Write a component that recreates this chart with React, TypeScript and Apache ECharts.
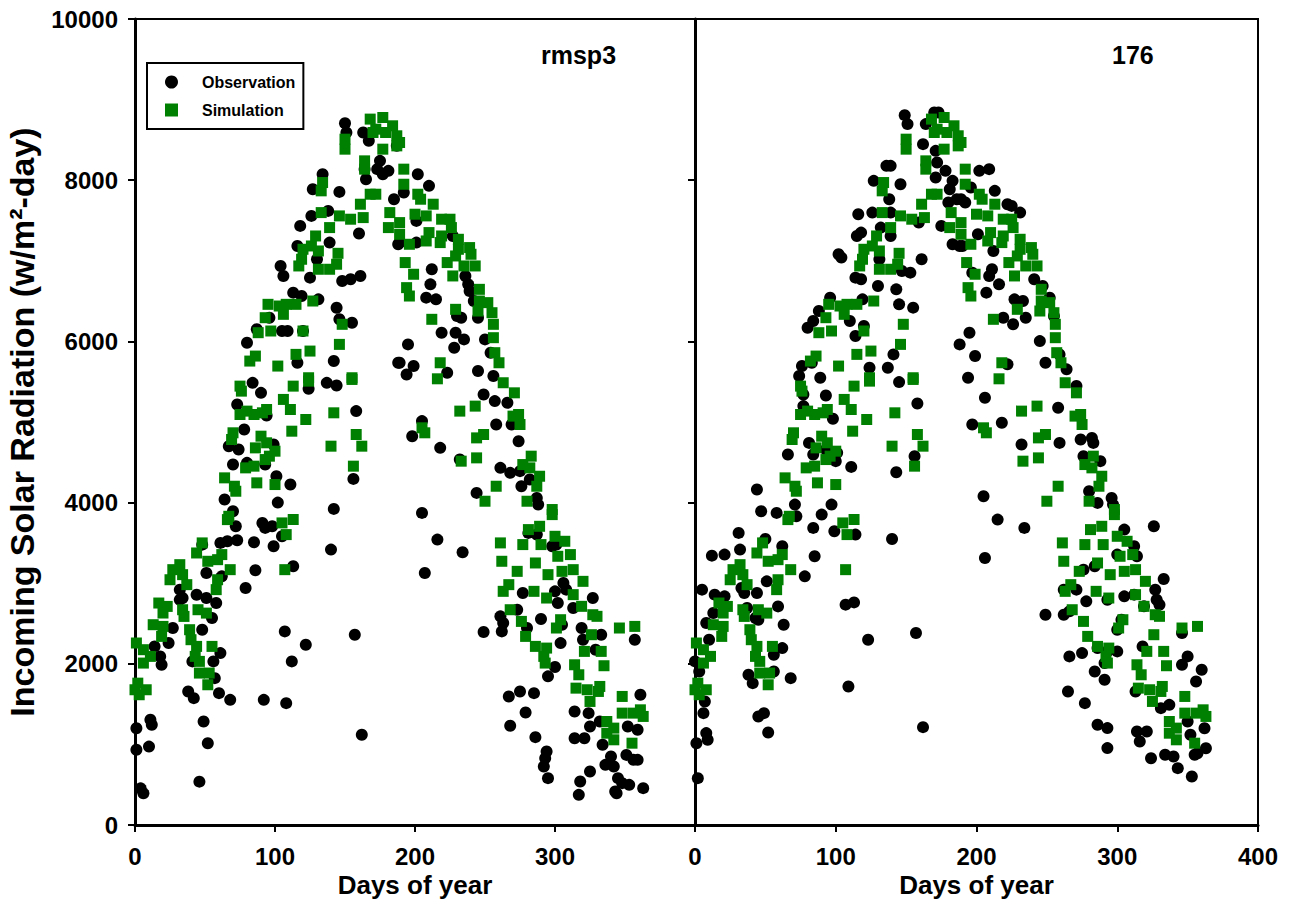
import React, { useEffect, useRef } from "react";
import * as echarts from "echarts";

// Day of year, incoming solar radiation (w/m2-day)
const obsRmsp3: number[][] = [
  [150,8708],[151,8592],[163,8592],[167,8488],[175,8240],[173,8137],[177,8074],[181,8116],[164,8137],[165,8012],
  [187,8426],[134,8074],[127,7888],[146,7855],[185,7764],[126,7557],[138,7619],[118,7433],[160,7338],[116,7184],
  [139,7226],[188,7205],[104,6936],[106,6812],[130,7019],[125,6791],[148,6750],[154,6771],[161,6812],[113,6605],
  [119,6563],[131,6522],[144,6418],[146,6274],[155,6232],[96,6294],[87,6150],[109,6129],[105,6129],[120,6129],
  [80,5984],[116,5735],[142,5756],[188,5735],
  [202,8074],[210,7930],[192,7847],[201,7495],[189,7226],[201,7226],[227,7308],[212,6895],[211,6708],[208,6543],
  [215,6522],[236,6812],[238,6708],[239,6625],[242,6501],[230,6315],[233,6294],[245,6294],[219,6108],[229,6108],
  [235,6025],[228,5922],[250,6025],[254,5860],[195,5963],[189,5735],[199,5694],[194,5590],[223,5611],[245,5632],
  [256,5570],
  [6,393],[4,455],[1,1200],[11,1305],[12,1243],[1,934],[10,973],[46,538],[49,1284],[52,1015],
  [38,1656],[42,1574],[68,1553],[60,1636],[92,1553],[108,1512],[162,1119],[107,2402],[122,2237],[112,2030],
  [157,2360],[19,1988],[18,2092],[14,2216],[24,2258],[27,2444],[32,2795],[34,2816],[44,2857],[51,2816],
  [58,2754],[55,2568],[48,2423],[61,2133],[56,2030],[41,2030],[57,1822],[32,2920],[51,3127],[62,3085],
  [79,2940],[86,3160],[48,3478],[61,3500],[66,3520],[73,3533],[85,3508],[99,3458],[105,3582],[91,3748],
  [93,3686],[98,3706],[113,3210],[140,3417],[64,4038],[70,3893],[72,3706],[102,4000],[142,3922],[70,4472],
  [67,4700],[74,4659],[78,4907],[80,4493],[93,4472],[99,4720],[101,4328],[111,4224],[156,4294],[158,5135],
  [84,5486],[90,5362],[94,5081],[73,5217],[124,5412],[137,5486],[144,5453],
  [249,5342],[257,5259],[266,5238],[258,4969],[269,4969],[274,4762],[218,4679],[205,5011],[198,4824],[232,4534],
  [244,4120],[261,4431],[268,4369],[275,4390],[276,4203],[282,4286],[287,4058],[288,3975],[205,3872],[216,3541],
  [234,3384],[207,3127],[281,3624],[287,3603],[298,3458],[301,3479],[306,3002],[308,2920],[300,2899],[302,2754],
  [313,2692],[277,2878],[273,2671],[261,2589],[263,2506],[262,2402],[249,2394],[280,2444],[290,2555],[305,2485],
  [304,2257],[319,2444],[320,2299],[327,2816],[333,2361],[329,2175],[357,2299],[300,1960],[295,1844],[267,1595],
  [275,1657],[285,1636],[279,1396],[268,1231],[286,1090],[314,1409],[324,1388],[332,1284],[325,1222],[361,1616],
  [352,1222],[359,1181],[314,1077],[321,1077],[334,995],[336,746],[340,850],[342,725],[351,870],[356,808],
  [359,808],[294,912],[293,829],[292,726],[295,581],[325,664],[318,539],[317,374],[345,581],[343,415],
  [344,394],[353,498],[363,457],[348,519]
];

const obs176: number[][] = [
  [149,8807],[151,8696],[164,8696],[170,8840],[173,8840],[162,8447],[171,8364],[172,8219],[178,8116],[171,8033],
  [183,7992],[181,7888],[186,7764],[180,7723],[136,8178],[139,8178],[127,7992],[146,7950],[138,7764],[175,7433],
  [183,7205],[188,7184],[116,7577],[126,7598],[139,7598],[159,7474],[132,7412],[139,7308],[115,7308],[118,7350],
  [102,7081],[104,7040],[131,7019],[161,7019],[114,6791],[118,6771],[130,6688],[147,6874],[153,6853],[143,6646],
  [145,6460],[155,6419],[96,6543],[88,6377],[119,6522],[80,6170],[84,6253],[110,6253],[114,6067],[120,6191],
  [188,5963],[76,5694],[74,5570],[89,5549],[124,5673],[137,5673],[141,5839],[83,5735],
  [202,8116],[209,8137],[196,7909],[213,7868],[192,7723],[189,7764],[222,7702],[225,7681],[231,7598],[201,7329],
  [190,7184],[212,7122],[211,6895],[209,6812],[216,6708],[207,6605],[197,6853],[241,6771],[247,6688],[252,6543],
  [227,6522],[233,6501],[219,6294],[226,6212],[235,6294],[255,6315],[195,6108],[199,5818],[194,5549],[245,6004],
  [222,5715],[249,5735],[259,5839],[264,5653],[271,5446],
  [2,581],[1,1015],[8,1140],[9,1057],[6,1388],[7,1533],[0,2030],[3,1905],[5,2920],[12,3342],
  [21,3355],[31,3624],[32,3417],[14,2858],[21,2837],[13,2630],[8,2506],[10,2299],[33,2940],[44,2878],
  [35,2878],[51,3023],[44,4162],[47,3893],[50,3549],[58,3872],[62,3458],[37,2692],[45,2547],[43,2568],
  [59,2712],[63,2485],[62,2195],[56,2113],[38,1864],[41,1760],[56,1905],[68,1822],[45,1346],[49,1388],
  [52,1148],[66,4597],[71,3975],[72,3830],[78,3085],[85,3334],[84,3686],[90,3851],[97,3975],[77,5197],
  [77,5342],[93,5329],[98,5040],[81,4741],[84,4597],[101,4617],[100,4514],[93,4659],[111,4443],[114,3603],
  [107,2734],[113,2762],[99,3644],[123,2299],[109,1719],[140,3549],[143,4377],[156,4576],[158,5230],[145,5495],
  [157,2382],[162,1214],
  [206,5300],[197,4969],[218,4990],[232,4721],[259,4741],[258,5176],[205,4079],[215,3789],[234,3686],[206,3313],
  [274,4783],[282,4803],[283,4741],[288,4514],[276,4576],[280,4141],[286,3996],[296,4058],[297,3975],[305,3665],
  [312,3458],[300,3355],[314,3334],[326,3706],[333,3052],[327,2920],[328,2795],[330,2733],[262,2920],[271,2920],
  [278,2775],[284,3210],[276,3168],[293,2795],[305,2837],[312,2858],[319,2713],[303,2547],[300,2423],[286,2195],
  [293,2154],[300,2154],[291,2009],[284,1905],[291,1802],[262,2609],[266,2651],[346,2382],[249,2609],[318,2216],
  [266,2092],[275,2133],[350,2092],[346,1988],[360,1926],[356,1781],[265,1657],[277,1512],[286,1243],[293,1202],
  [293,954],[314,1160],[321,1160],[316,1036],[324,829],[331,1450],[337,1491],[350,1284],[362,1201],[352,1119],
  [334,871],[340,850],[343,705],[355,871],[363,953],[357,891],[353,601],[313,1657]
];

const simulation: number[][] = [
  [168,8758],[177,8778],[172,8633],[184,8675],[187,8551],[187,8426],[170,8592],[179,8592],
  [150,8509],[150,8385],[177,8385],[164,8240],[164,8137],[134,7971],[133,7868],[168,7826],[172,7826],[161,7702],
  [133,7598],[146,7557],[154,7516],[163,7536],[139,7412],[129,7308],[126,7184],[120,7143],[119,7019],[117,6936],
  [131,7122],[131,6895],[139,6895],[144,6957],[145,7093],[182,7598],[181,7412],
  [95,6460],[103,6439],[108,6460],[115,6460],[127,6501],[106,6336],[93,6294],[88,6108],[97,6129],[120,6129],
  [148,6212],[146,5963],[86,5818],[82,5756],[115,5839],[125,5880],[102,5694],[124,5549],[155,5549],
  [189,8468],[192,8137],[192,7950],[202,7826],[204,7764],[213,7702],[200,7578],[208,7557],[219,7516],[225,7516],
  [226,7412],[189,7474],[189,7329],[210,7350],[219,7308],[208,7246],[218,7226],[196,7205],[231,7267],[231,7143],
  [239,7164],[240,7081],[223,6978],[229,7060],[235,6936],[243,6936],[193,6978],[199,6833],[194,6667],[196,6563],
  [227,6812],[246,6646],[246,6501],[252,6481],[245,6377],[255,6356],[256,6212],[229,6398],[212,6274],[256,6046],
  [257,5860],[260,5735],[218,5735],[216,5536],
  [1,2258],[6,2175],[11,2092],[6,2009],[2,1760],[8,1678],[3,1616],[0,1678],[17,2754],[23,2712],
  [20,2630],[13,2485],[20,2464],[19,2340],[27,3168],[32,3230],[25,3043],[34,3106],[37,2982],[34,2671],
  [35,2588],[39,2423],[40,2299],[44,2216],[43,2092],[46,2030],[46,1885],[55,2216],[53,1885],[52,1740],
  [45,2671],[51,2629],[44,3375],[52,3272],[59,3292],[62,3355],[48,3500],[59,3043],[58,2920],[68,3168],
  [66,3789],[67,3830],[64,4307],[71,4203],[72,4141],[70,4866],[69,4783],[75,5445],[76,5383],[75,5093],
  [80,5135],[85,5093],[91,5114],[94,5155],[90,4824],[94,4742],[100,4638],[96,4576],[93,4534],[86,4679],
  [79,4431],[85,4452],[87,4245],[100,4224],[105,3748],[113,3790],[108,3603],[107,3168],[106,5280],[111,5155],
  [113,5445],[122,5031],[112,4886],[140,4700],[142,5114],[124,5507],[155,5528],[158,4845],[162,4700],[156,4452],
  [263,5487],[271,5362],[232,5135],[243,5197],[270,5073],[274,5093],[275,4969],[205,4928],[207,4866],[244,4803],
  [249,4845],[244,4555],[233,4514],[283,4576],[277,4472],[282,4431],[289,4327],[287,4203],[258,4203],[250,4017],
  [280,4017],[298,3914],[298,3851],[281,3665],[289,3706],[261,3500],[277,3479],[290,3479],[300,3582],[307,3520],
  [311,3355],[302,3334],[305,3147],[313,3168],[320,3023],[262,3272],[273,3147],[286,3251],[295,3106],[267,2982],
  [263,2899],[285,2899],[294,2816],[313,2858],[319,2713],[268,2671],[276,2526],[279,2340],[304,2547],[301,2444],
  [327,2609],[330,2589],[326,2361],[321,2154],[333,2154],[335,1976],[346,2444],[357,2464],[286,2216],[294,2195],
  [292,2092],[293,2009],[314,1988],[317,1864],[315,1698],[323,1678],[325,1533],[332,1719],[331,1657],[348,1595],
  [348,1388],[356,1388],[361,1429],[363,1347],[337,1284],[342,1202],[337,1139],[342,1057],[355,1015]
];

const panelNames = ["rmsp3", "176"];
const seriesNames = ["Observation", "Simulation"];

const FONT = "'Liberation Sans', Arial, sans-serif";
const BLACK = "#000000";
const GREEN = "#008000";

export default function App() {
  const ref = useRef<HTMLDivElement>(null);

  useEffect(() => {
    if (!ref.current) return;
    const chart = echarts.init(ref.current, null, { renderer: "svg" });

    const axisLine = { show: true, onZero: false, lineStyle: { color: BLACK, width: 3 } };
    const axisTick = { show: true, inside: false, length: 7, lineStyle: { color: BLACK, width: 2 } };
    const labelStyle = { color: BLACK, fontSize: 24, fontWeight: "bold" as const, fontFamily: FONT };
    const nameStyle = { color: BLACK, fontSize: 26, fontWeight: "bold" as const, fontFamily: FONT };
    const plain = (v: number) => String(v);

    const xAxisBase = (gridIndex: number, showMax: boolean) => ({
      type: "value" as const,
      gridIndex,
      min: 0,
      max: 400,
      interval: 100,
      axisLine,
      axisTick,
      splitLine: { show: false },
      axisLabel: { ...labelStyle, margin: 19, showMaxLabel: showMax, formatter: plain },
      name: "Days of year",
      nameLocation: "middle" as const,
      nameGap: 47,
      nameMoveOverlap: false,
      nameTextStyle: nameStyle,
    });

    const option: any = {
      animation: false,
      backgroundColor: "#ffffff",
      title: [
        { text: panelNames[0], left: 536, top: 37, textStyle: { ...labelStyle, fontSize: 25 } },
        { text: panelNames[1], left: 1107, top: 37, textStyle: { ...labelStyle, fontSize: 25 } },
      ],
      legend: {
        orient: "vertical",
        left: 147,
        top: 63,
        padding: [11, 8, 11, 18],
        itemGap: 12,
        itemWidth: 13,
        itemHeight: 13,
        borderColor: BLACK,
        borderWidth: 2,
        textStyle: { color: BLACK, fontSize: 16, fontWeight: "bold", fontFamily: FONT, padding: [0, 0, 0, 19] },
        data: [
          { name: seriesNames[0], icon: "circle" },
          { name: seriesNames[1], icon: "rect" },
        ],
      },
      grid: [
        { left: 135, top: 19, width: 560, height: 806, show: true, borderColor: BLACK, borderWidth: 2, backgroundColor: "transparent" },
        { left: 695, top: 19, width: 563, height: 806, show: true, borderColor: BLACK, borderWidth: 2, backgroundColor: "transparent" },
      ],
      xAxis: [xAxisBase(0, false), xAxisBase(1, true)],
      yAxis: [
        {
          type: "value",
          gridIndex: 0,
          min: 0,
          max: 10000,
          interval: 2000,
          axisLine,
          axisTick,
          splitLine: { show: false },
          axisLabel: { ...labelStyle, margin: 17, formatter: plain },
          name: "Incoming Solar Radiation (w/m²-day)",
          nameLocation: "middle",
          nameGap: 96,
          nameMoveOverlap: false,
          nameRotate: 90,
          nameTextStyle: { ...nameStyle, fontSize: 34 },
        },
        {
          type: "value",
          gridIndex: 1,
          min: 0,
          max: 10000,
          interval: 2000,
          axisLine,
          axisTick,
          splitLine: { show: false },
          axisLabel: { show: false },
        },
      ],
      series: [
        {
          name: seriesNames[0], type: "scatter", xAxisIndex: 0, yAxisIndex: 0,
          symbol: "circle", symbolSize: 12, itemStyle: { color: BLACK, opacity: 1 }, data: obsRmsp3, z: 2,
        },
        {
          name: seriesNames[1], type: "scatter", xAxisIndex: 0, yAxisIndex: 0,
          symbol: "rect", symbolSize: 11, itemStyle: { color: GREEN, opacity: 1 }, data: simulation, z: 3,
        },
        {
          name: seriesNames[0], type: "scatter", xAxisIndex: 1, yAxisIndex: 1,
          symbol: "circle", symbolSize: 12, itemStyle: { color: BLACK, opacity: 1 }, data: obs176, z: 2,
        },
        {
          name: seriesNames[1], type: "scatter", xAxisIndex: 1, yAxisIndex: 1,
          symbol: "rect", symbolSize: 11, itemStyle: { color: GREEN, opacity: 1 }, data: simulation, z: 3,
        },
      ],
    };

    chart.setOption(option);
    return () => chart.dispose();
  }, []);

  return (
    <div
      ref={ref}
      style={{ position: "absolute", left: 0, top: 0, width: 1298, height: 920, background: "#fff" }}
    />
  );
}
